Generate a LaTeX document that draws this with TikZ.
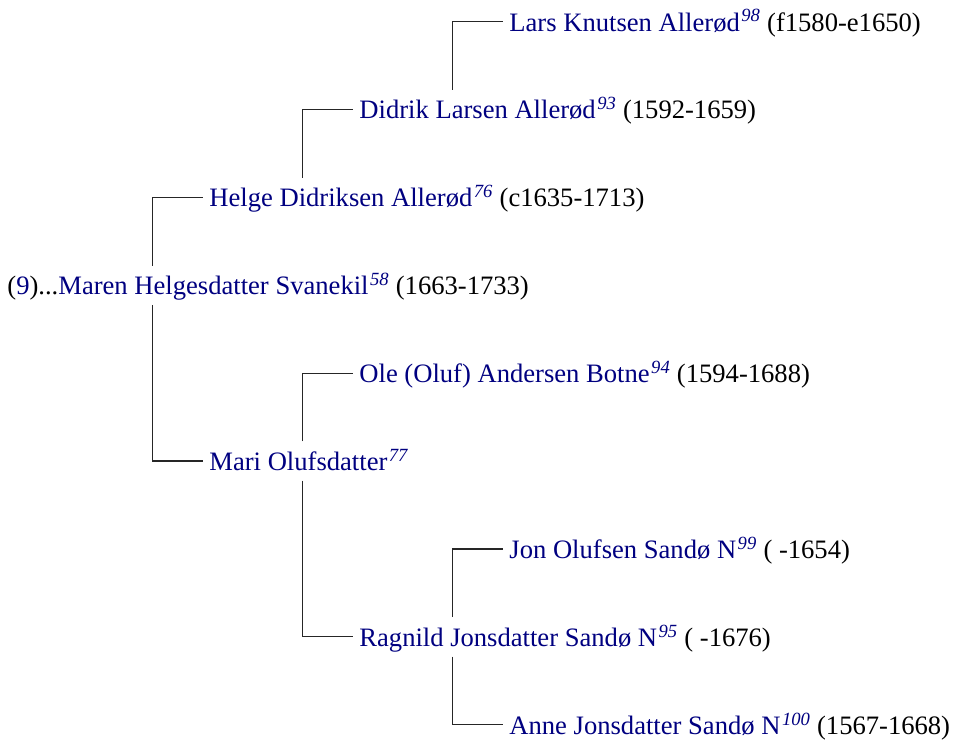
\documentclass[tikz,border=0pt]{standalone}
\usepackage{fontspec}
\setmainfont{Liberation Serif}
\definecolor{navy}{RGB}{0,0,128}
\newcommand{\who}[2]{\textcolor{navy}{#1\kern1.5pt\textsuperscript{\itshape #2}}}
\begin{document}
\begin{tikzpicture}[
    x=1pt, y=-1pt,
    every node/.style={font=\fontsize{26.6}{32}\selectfont, anchor=base west,
      inner xsep=6.5pt, inner ysep=5pt, text height=24pt, text depth=5pt},
    link/.style={line width=1.2pt, black!85}
  ]
  \useasboundingbox (0,0) rectangle (956,745);

  % columns of the vertical links
  \coordinate (c1) at (152.7,0);
  \coordinate (c2) at (302.7,0);
  \coordinate (c3) at (452.7,0);

  % people
  \node (maren)   at (0.7,294.7)   {(\textcolor{navy}{9})...\who{Maren Helgesdatter Svanekil}{58} (1663-1733)};
  \node (helge)   at (202.7,206.8) {\who{Helge Didriksen Allerød}{76} (c1635-1713)};
  \node (didrik)  at (352.7,118.9) {\who{Didrik Larsen Allerød}{93} (1592-1659)};
  \node (lars)    at (502.7,31)    {\who{Lars Knutsen Allerød}{98} (f1580-e1650)};
  \node (mari)    at (202.7,470.5) {\who{Mari Olufsdatter}{77}};
  \node (ole)     at (352.7,382.6) {\who{Ole (Oluf) Andersen Botne}{94} (1594-1688)};
  \node (ragnild) at (352.7,646.3) {\who{Ragnild Jonsdatter Sandø N}{95} ( -1676)};
  \node (jon)     at (502.7,558.4) {\who{Jon Olufsen Sandø N}{99} ( -1654)};
  \node (anne)    at (502.7,734.2) {\who{Anne Jonsdatter Sandø N}{100} (1567-1668)};

  % links
  \draw[link] (maren.north -| c1) |- (helge.west);
  \draw[link] (maren.south -| c1) |- (mari.west);
  \draw[link] (helge.north -| c2) |- (didrik.west);
  \draw[link] (didrik.north -| c3) |- (lars.west);
  \draw[link] (mari.north -| c2) |- (ole.west);
  \draw[link] (mari.south -| c2) |- (ragnild.west);
  \draw[link] (ragnild.north -| c3) |- (jon.west);
  \draw[link] (ragnild.south -| c3) |- (anne.west);
\end{tikzpicture}
\end{document}
